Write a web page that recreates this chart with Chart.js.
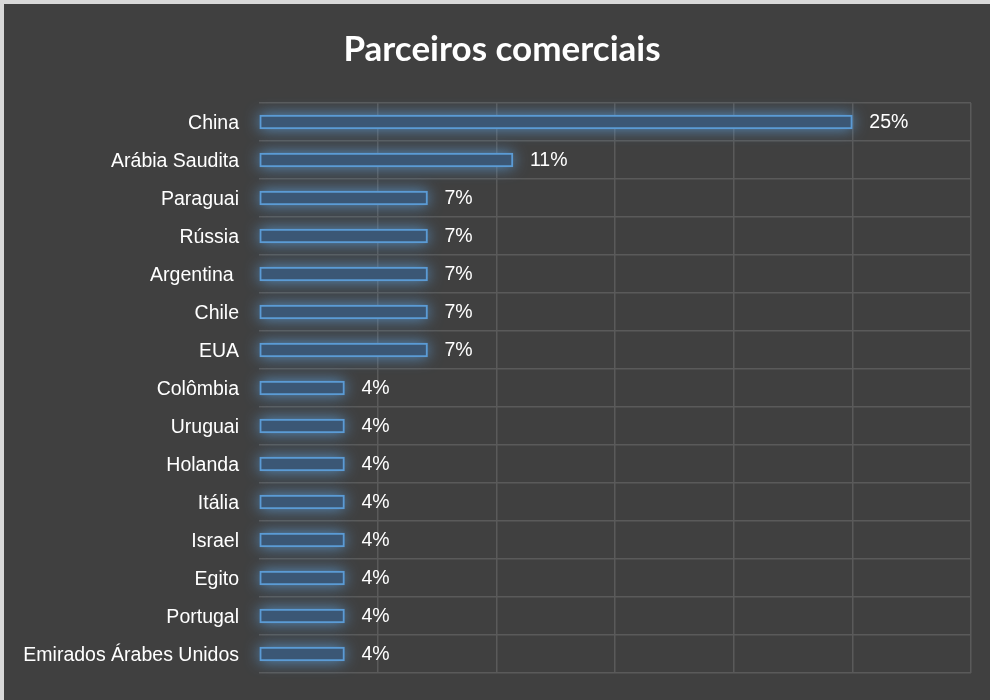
<!DOCTYPE html>
<html>
<head>
<meta charset="utf-8">
<script src="https://cdn.jsdelivr.net/npm/chart.js@4.4.1/dist/chart.umd.min.js"></script>
<style>
  html, body { margin: 0; padding: 0; background: #d9d9d9; width: 990px; height: 700px; overflow: hidden; }
  #box { position: absolute; left: 4px; top: 4px; width: 986px; height: 696px; background: #404040; }
</style>
</head>
<body>
<div id="box"><canvas id="myChart" width="986" height="696"></canvas></div>
<script>
var paises = ['China', 'Arábia Saudita', 'Paraguai', 'Rússia', 'Argentina ', 'Chile', 'EUA', 'Colômbia',
    'Uruguai', 'Holanda', 'Itália', 'Israel', 'Egito', 'Portugal', 'Emirados Árabes Unidos'];
var valores = [25, 10.7, 7.1, 7.1, 7.1, 7.1, 7.1, 3.6, 3.6, 3.6, 3.6, 3.6, 3.6, 3.6, 3.6];
var eixoMax = 30;
var eixoPasso = 5;
var titulo = 'Parceiros comerciais';

var fonteRotulo = { family: "'Liberation Sans', Arial, sans-serif", size: 19.5 };

// brilho azul em volta das barras, rotulos de valor e titulo
var brilho = {
    id: 'brilho',
    beforeDatasetsDraw: function (chart) {
        var ctx = chart.ctx;
        var meta = chart.getDatasetMeta(0);
        ctx.save();
        ctx.shadowColor = 'rgba(91,155,213,0.9)';
        ctx.shadowBlur = 15;
        ctx.fillStyle = '#3b5775';
        meta.data.forEach(function (bar) {
            var h = bar.height;
            ctx.fillRect(bar.base, bar.y - h / 2, bar.x - bar.base, h);
        });
        ctx.restore();
    },
    afterDatasetsDraw: function (chart) {
        var ctx = chart.ctx;
        var meta = chart.getDatasetMeta(0);
        ctx.save();
        ctx.fillStyle = '#ffffff';
        ctx.font = fonteRotulo.size + 'px ' + fonteRotulo.family;
        ctx.textBaseline = 'middle';
        ctx.textAlign = 'left';
        meta.data.forEach(function (bar, i) {
            ctx.fillText(Math.round(valores[i]) + '%', bar.x + 17, bar.y + 1);
        });
        ctx.restore();
    },
    afterDraw: function (chart) {
        var ctx = chart.ctx;
        ctx.save();
        ctx.fillStyle = '#ffffff';
        ctx.font = 'bold 35px Lato, sans-serif';
        ctx.textAlign = 'center';
        ctx.textBaseline = 'middle';
        ctx.fillText(titulo, 498, 46);
        ctx.restore();
    }
};

var ctx = document.getElementById('myChart').getContext('2d');
var chart = new Chart(ctx, {
    type: 'bar',
    data: {
        labels: paises,
        datasets: [{
            data: valores,
            backgroundColor: '#3b5775',
            borderColor: '#5b9bd5',
            borderWidth: 2,
            borderSkipped: false,
            barThickness: 14
        }]
    },
    options: {
        indexAxis: 'y',
        responsive: false,
        maintainAspectRatio: false,
        animation: false,
        layout: { padding: { left: 0, right: 19, top: 99, bottom: 27 } },
        plugins: {
            legend: { display: false },
            tooltip: { enabled: false },
            title: { display: false }
        },
        scales: {
            x: {
                min: 0,
                max: eixoMax,
                ticks: { display: false, stepSize: eixoPasso },
                border: { display: false },
                grid: {
                    color: function (c) { return c.tick && c.tick.value === 0 ? 'rgba(0,0,0,0)' : '#5a5a5a'; },
                    lineWidth: 1.5,
                    drawTicks: false
                },
                afterFit: function (s) { s.height = 0; }
            },
            y: {
                ticks: { color: '#ffffff', font: fonteRotulo, padding: 20, labelOffset: 2 },
                border: { display: false },
                grid: { offset: true, color: '#5a5a5a', lineWidth: 1.5, drawTicks: false },
                afterFit: function (s) {
                    s.width = 255;
                    s.paddingTop = 0;
                    s.paddingBottom = 0;
                }
            }
        }
    },
    plugins: [brilho]
});
</script>
</body>
</html>
